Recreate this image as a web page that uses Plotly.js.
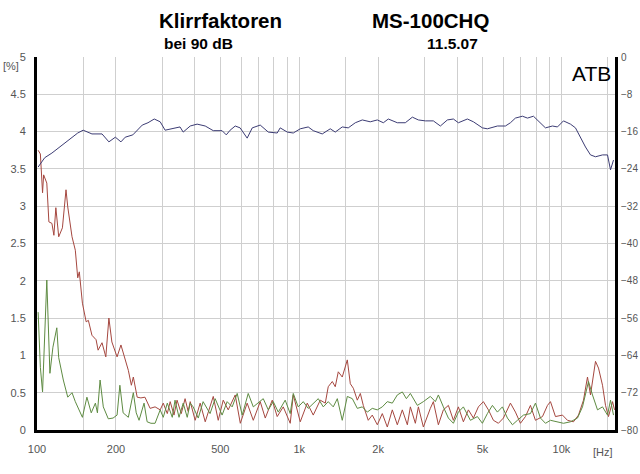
<!DOCTYPE html>
<html><head><meta charset="utf-8">
<script src="https://cdn.plot.ly/plotly-3.0.1.min.js"></script>
<style>html,body{margin:0;padding:0;background:#fff}#chart{width:640px;height:474px}</style>
</head><body><div id="chart"></div>
<script>
// Frequency response (right axis, dB)
const freqFR = [101,107,114,122,130,136,143,150,162,177,188,199,209,217,232,252,265,280,295,308,328,351,361,384,408,438,470,508,527,545,570,595,633,662,710,762,824,846,900,949,1009,1082,1131,1224,1313,1372,1459,1538,1636,1740,1866,1985,2093,2186,2366,2538,2700,2846,3027,3247,3453,3672,3871,4045,4377,4615,4994,5218,5698,6113,6389,6674,7098,7418,7818,8170,8687,9239,9654,10176,10823,11309,11817,12348,12902,13482,14337,14981,15381,15792];
const levelFR = [-23.6,-21.6,-20.6,-19.3,-18.2,-17.2,-16.3,-15.7,-16.5,-16.5,-18.2,-17.2,-18.2,-17.2,-16.7,-14.6,-14.1,-13.3,-13.9,-15.7,-15.4,-15.0,-16.1,-14.8,-14.4,-14.8,-15.8,-15.8,-16.7,-15.7,-14.8,-15.2,-17.4,-15.2,-14.6,-16.1,-16.3,-15.2,-16.1,-16.3,-15.4,-15.0,-15.8,-16.5,-15.4,-16.1,-15.0,-15.2,-14.1,-13.5,-13.9,-13.5,-14.1,-13.3,-14.1,-14.1,-12.9,-13.5,-13.7,-13.7,-14.8,-13.5,-13.3,-14.1,-13.3,-13.9,-15.2,-15.4,-14.8,-14.8,-14.1,-13.1,-12.7,-13.1,-12.7,-13.7,-15.2,-14.8,-15.0,-13.7,-14.4,-15.2,-17.4,-19.3,-21.0,-21.4,-21.0,-21.0,-24.2,-22.1];

// 2nd harmonic distortion (%)
const freqK2 = [101,103,105,106,109,111,114,116,118,121,125,129,131,136,140,143,145,149,154,157,162,168,171,177,183,188,193,202,209,215,223,229,233,241,249,258,270,282,295,303,314,322,333,342,355,367,377,384,401,419,438,470,491,513,536,570,596,633,668,710,742,789,824,869,924,949,1009,1073,1131,1203,1257,1290,1337,1372,1409,1459,1525,1566,1608,1665,1710,1755,1833,1899,1985,2074,2167,2264,2366,2472,2584,2653,2772,2847,2974,3162,3247,3393,3545,3705,3871,4045,4226,4416,4615,4822,5038,5265,5501,5748,6006,6388,6675,6974,7288,7615,7957,8463,8843,9080,9486,10088,10541,11112,11612,12133,12567,12902,13481,13842,14337,14719,15113,15658,15936];
const pctK2 = [3.75,3.70,3.18,3.42,3.31,2.79,2.77,2.61,2.98,2.59,2.71,3.22,2.99,2.59,2.41,2.04,2.12,1.70,1.45,1.47,1.27,1.21,1.07,1.17,0.98,1.50,1.18,0.98,1.14,0.98,0.80,0.60,0.71,0.44,0.43,0.44,0.29,0.31,0.27,0.36,0.22,0.38,0.20,0.40,0.22,0.42,0.25,0.38,0.13,0.36,0.11,0.45,0.13,0.40,0.27,0.47,0.09,0.36,0.13,0.38,0.16,0.40,0.18,0.31,0.09,0.47,0.11,0.36,0.20,0.40,0.36,0.58,0.65,0.58,0.78,0.71,0.94,0.62,0.56,0.40,0.49,0.33,0.13,0.20,0.07,0.22,0.04,0.27,0.07,0.27,0.07,0.31,0.09,0.31,0.04,0.29,0.38,0.07,0.27,0.33,0.13,0.31,0.11,0.27,0.16,0.31,0.38,0.27,0.13,0.09,0.16,0.36,0.24,0.09,0.18,0.33,0.13,0.18,0.33,0.38,0.18,0.20,0.13,0.11,0.20,0.40,0.71,0.47,0.92,0.83,0.60,0.33,0.18,0.38,0.27];

// 3rd harmonic distortion (%)
const freqK3 = [101,103,105,107,109,112,115,119,121,126,131,136,140,149,155,161,167,170,174,179,187,195,202,207,213,223,233,239,245,256,263,272,282,295,303,314,328,336,348,361,374,384,394,412,430,457,478,508,531,555,580,606,639,668,698,729,762,796,832,884,924,949,991,1036,1082,1131,1182,1235,1290,1348,1397,1459,1525,1594,1665,1740,1818,1899,1985,2074,2167,2264,2366,2472,2562,2653,2821,2974,3162,3304,3393,3545,3705,3871,4045,4226,4495,4780,4994,5218,5453,5698,5954,6222,6502,6792,7161,7615,7957,8315,8689,9080,9655,10177,10823,11510,12027,12348,12678,13130,13722,14337,14981,15381,15792];
const pctK3 = [1.58,0.84,0.51,1.25,2.01,0.76,1.11,1.37,0.97,0.67,0.44,0.50,0.38,0.17,0.44,0.23,0.36,0.23,0.67,0.31,0.15,0.16,0.20,0.60,0.23,0.17,0.50,0.23,0.13,0.36,0.11,0.09,0.09,0.27,0.17,0.36,0.17,0.40,0.17,0.36,0.17,0.36,0.31,0.16,0.38,0.22,0.42,0.20,0.38,0.31,0.49,0.20,0.49,0.31,0.36,0.42,0.27,0.38,0.24,0.40,0.22,0.49,0.31,0.38,0.29,0.36,0.42,0.31,0.38,0.31,0.42,0.13,0.45,0.42,0.29,0.31,0.24,0.29,0.27,0.31,0.38,0.36,0.47,0.51,0.42,0.49,0.33,0.38,0.45,0.38,0.47,0.31,0.16,0.09,0.24,0.31,0.13,0.18,0.09,0.22,0.33,0.24,0.31,0.16,0.07,0.13,0.20,0.22,0.36,0.16,0.09,0.13,0.11,0.09,0.11,0.16,0.31,0.47,0.65,0.47,0.27,0.31,0.20,0.40,0.20];

// Axis ticks
const xGrid = [100,150,200,300,400,500,600,700,800,900,1000,1500,2000,3000,4000,5000,6000,7000,8000,9000,10000,15000];
const xLabelMap = {100:'100',200:'200',500:'500',1000:'1k',2000:'2k',5000:'5k',10000:'10k'};
const yTicks = [0,0.5,1,1.5,2,2.5,3,3.5,4,4.5,5];
const yTickText = ['0','0.5','1','1.5','2','2.5','3','3.5','4','4.5','5'];
const y2Ticks = [0,-8,-16,-24,-32,-40,-48,-56,-64,-72,-80];

const font = 'Liberation Sans, Arial, sans-serif';
const traces = [
  {x: freqK2, y: pctK2, type:'scatter', mode:'lines', line:{color:'#a5473f', width:1}, yaxis:'y', hoverinfo:'skip'},
  {x: freqK3, y: pctK3, type:'scatter', mode:'lines', line:{color:'#5e8b42', width:1}, yaxis:'y', hoverinfo:'skip'},
  {x: freqFR, y: levelFR, type:'scatter', mode:'lines', line:{color:'#3c3c74', width:1}, yaxis:'y2', hoverinfo:'skip'}
];
const layout = {
  width:640, height:474,
  margin:{l:37, r:25, t:57, b:44},
  paper_bgcolor:'#fff', plot_bgcolor:'#fff',
  showlegend:false,
  font:{family:font, size:11, color:'#555'},
  xaxis:{type:'log', range:[2, Math.log10(16000)], tickmode:'array', tickvals:xGrid,
    ticktext:xGrid.map(v => xLabelMap[v] || ''), showgrid:true, gridcolor:'#cfcfcf', gridwidth:1,
    showline:true, linecolor:'#000', linewidth:3, ticks:'', ticklabelstandoff:7, zeroline:false,
    tickfont:{family:font, size:11, color:'#555'}},
  yaxis:{range:[0,5], tickmode:'array', tickvals:yTicks, ticktext:yTickText, showgrid:true,
    gridcolor:'#cfcfcf', gridwidth:1, showline:true, linecolor:'#000', linewidth:3, ticks:'',
    ticklabelstandoff:6, zeroline:false, tickfont:{family:font, size:11, color:'#555'}},
  yaxis2:{range:[-80,0], overlaying:'y', side:'right', tickmode:'array', tickvals:y2Ticks,
    showgrid:false, showline:true, linecolor:'#000', linewidth:3, ticks:'', ticklabelstandoff:1,
    zeroline:false, tickfont:{family:font, size:10, color:'#555'}},
  annotations:[
    {text:'<b>Klirrfaktoren</b>', xref:'paper', yref:'paper', x:0.318, y:1.099, xanchor:'center', yanchor:'middle', showarrow:false, font:{family:font, size:20.5, color:'#000'}},
    {text:'<b>MS-100CHQ</b>', xref:'paper', yref:'paper', x:0.680, y:1.099, xanchor:'center', yanchor:'middle', showarrow:false, font:{family:font, size:20.5, color:'#000'}},
    {text:'<b>bei 90 dB</b>', xref:'paper', yref:'paper', x:0.280, y:1.037, xanchor:'center', yanchor:'middle', showarrow:false, font:{family:font, size:15.5, color:'#000'}},
    {text:'<b>11.5.07</b>', xref:'paper', yref:'paper', x:0.718, y:1.037, xanchor:'center', yanchor:'middle', showarrow:false, font:{family:font, size:15.5, color:'#000'}},
    {text:'ATB', xref:'paper', yref:'paper', x:0.9965, y:0.957, xanchor:'right', yanchor:'middle', showarrow:false, font:{family:font, size:21, color:'#000'}},
    {text:'[%]', xref:'paper', yref:'paper', x:-0.045, y:0.976, xanchor:'center', yanchor:'middle', showarrow:false, font:{family:font, size:11, color:'#555'}},
    {text:'[Hz]', xref:'paper', yref:'paper', x:0.979, y:-0.059, xanchor:'center', yanchor:'middle', showarrow:false, font:{family:font, size:11, color:'#555'}}
  ]
};
Plotly.newPlot('chart', traces, layout, {staticPlot:true, displayModeBar:false});
</script>
</body></html>
